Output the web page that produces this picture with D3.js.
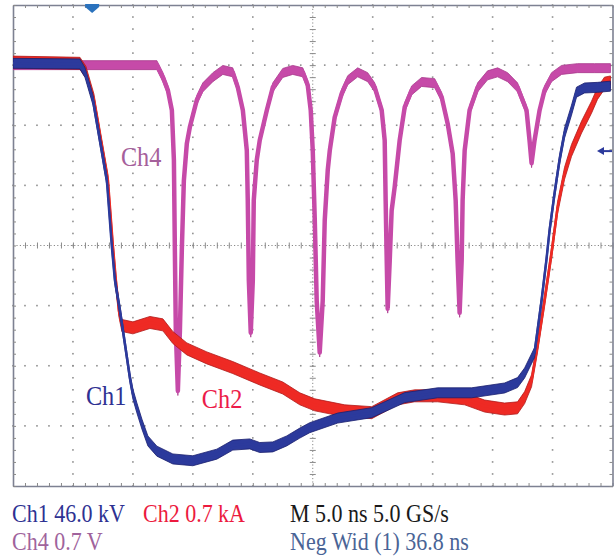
<!DOCTYPE html>
<html>
<head>
<meta charset="utf-8">
<script src="https://cdn.jsdelivr.net/npm/d3@7"></script>
<style>
  body { margin: 0; background: #fff; }
  svg { display: block; }
  text { font-family: "Liberation Serif", "Times New Roman", serif; }
</style>
</head>
<body>
<div id="chart"></div>
<script>
///// DATOS (tiempo en ns, amplitud en divisiones) /////
// Ch1: tension
let ch1 = [
  [0, 3.03], [5.58, 3.02], [6.0, 2.88], [6.67, 2.42], [7.25, 1.75], [7.83, 1.08],
  [8.25, -0.03], [8.5, -0.58], [8.92, -1.08], [9.33, -1.63], [9.75, -2.2], [10.0, -2.47],
  [10.33, -2.7], [10.75, -2.97], [11.25, -3.25], [12.0, -3.42], [13.33, -3.55], [15.0, -3.58],
  [17.0, -3.47], [18.33, -3.32], [19.75, -3.3], [20.58, -3.36], [21.67, -3.35], [22.83, -3.25],
  [23.92, -3.12], [24.75, -3.03], [27.08, -2.87], [29.92, -2.78], [32.67, -2.53], [35.42, -2.45],
  [38.25, -2.45], [41.0, -2.37], [42.08, -2.28], [42.67, -2.12], [43.5, -1.78], [44.08, -0.92],
  [44.5, -0.22], [44.75, 0.25], [45.17, 0.87], [45.58, 1.42], [46.0, 1.87], [46.58, 2.25],
  [47.0, 2.55], [47.67, 2.62], [48.75, 2.63], [49.83, 2.65]
];
// Ch2: corriente
let ch2 = [
  [0, 3.05], [5.58, 3.03], [6.08, 2.88], [6.75, 2.42], [7.33, 1.75], [7.92, 1.08],
  [8.33, 0.0], [8.58, -0.58], [8.83, -1.08], [9.08, -1.33], [10.0, -1.37], [11.42, -1.28],
  [12.5, -1.32], [13.33, -1.53], [14.5, -1.72], [16.17, -1.87], [18.33, -2.03], [20.58, -2.22],
  [22.5, -2.37], [23.92, -2.55], [25.17, -2.65], [27.67, -2.75], [29.92, -2.78], [32.08, -2.55],
  [33.5, -2.5], [35.42, -2.5], [37.67, -2.55], [39.33, -2.67], [41.0, -2.72], [42.08, -2.7],
  [42.67, -2.53], [43.25, -2.25], [43.75, -1.67], [44.33, -0.92], [44.92, -0.12], [45.42, 0.63],
  [46.0, 1.2], [46.58, 1.58], [47.42, 1.97], [48.25, 2.3], [48.75, 2.53], [49.33, 2.7], [49.83, 2.72]
];
// Ch4
let ch4 = [
  [0, 3.0], [12.0, 3.0], [12.5, 2.8], [12.92, 2.58], [13.25, 2.25], [13.42, 1.42], [13.5, -0.08],
  [13.58, -1.42], [13.75, -2.42], [13.92, -1.42], [14.08, -0.08], [14.25, 1.08], [14.5, 1.7],
  [14.75, 1.97], [15.33, 2.42], [15.83, 2.63], [16.67, 2.8], [17.5, 2.92], [18.33, 2.88],
  [18.75, 2.63], [19.17, 2.25], [19.5, 1.58], [19.58, 0.75], [19.67, -0.58], [19.83, -1.45],
  [20.0, -0.58], [20.08, 0.75], [20.33, 1.42], [20.58, 1.75], [21.17, 2.25], [21.67, 2.63],
  [22.5, 2.87], [23.33, 2.92], [24.17, 2.88], [24.58, 2.67], [24.83, 2.25], [25.0, 1.58],
  [25.17, 0.42], [25.33, -0.92], [25.58, -1.78], [25.83, -0.92], [26.0, 0.42], [26.25, 1.25],
  [26.42, 1.58], [26.83, 2.13], [27.42, 2.53], [27.92, 2.75], [28.75, 2.88], [29.58, 2.8],
  [30.17, 2.63], [30.75, 2.25], [31.0, 1.75], [31.08, 0.75], [31.17, -0.25], [31.25, -1.05],
  [31.42, -0.25], [31.58, 0.58], [31.83, 0.97], [32.25, 1.75], [32.67, 2.3], [33.25, 2.58],
  [34.08, 2.72], [35.17, 2.7], [35.75, 2.47], [36.25, 2.03], [36.67, 1.53], [36.92, 0.75],
  [37.08, -0.25], [37.25, -1.12], [37.42, -0.25], [37.5, 0.75], [37.67, 1.58], [38.08, 2.25],
  [38.75, 2.63], [39.58, 2.83], [40.42, 2.88], [41.25, 2.8], [42.08, 2.63], [42.83, 2.25],
  [43.08, 1.75], [43.25, 1.37], [43.5, 1.75], [43.92, 2.25], [44.33, 2.58], [44.92, 2.8],
  [45.75, 2.92], [47.08, 2.95], [48.5, 2.95], [49.83, 2.95]
];

let triggerTime = 6.6;      // marcador de disparo (ns)
let levelMarker = 1.57;     // marcador de nivel (div)

let plotLabels = [
  {text: 'Ch4', t: 9.0, v: 1.33, color: '#a5609b'},
  {text: 'Ch1', t: 6.08, v: -2.65, color: '#2e3192'},
  {text: 'Ch2', t: 15.75, v: -2.7, color: '#ec1c4a'}
];
let infoRow1 = [
  {text: 'Ch1 46.0 kV', x: 12, color: '#2e3192'},
  {text: 'Ch2 0.7 kA', x: 143, color: '#ec1a3e'},
  {text: 'M 5.0 ns 5.0 GS/s', x: 290, color: '#1a1a1a'}
];
let infoRow2 = [
  {text: 'Ch4 0.7 V', x: 12, color: '#a0639c'},
  {text: 'Neg Wid (1) 36.8 ns', x: 290, color: '#4a6496'}
];

///// GRÁFICO /////
let W = 615, H = 557;
let x = d3.scaleLinear().domain([0, 50]).range([13, 612.5]);
let y = d3.scaleLinear().domain([-4, 4]).range([486, 5]);

let svg = d3.select('#chart').append('svg')
  .attr('width', W).attr('height', H);

svg.append('defs').append('clipPath').attr('id', 'clip')
  .append('rect').attr('x', 13).attr('y', 5).attr('width', 599.5).attr('height', 481);

// Retícula punteada
let grid = svg.append('g').attr('fill', '#8f8f8f');
let majorT = d3.range(5, 50, 5).filter(d => d !== 25);
let majorV = d3.range(-3, 4, 1).filter(d => d !== 0);
let minorT = d3.range(0, 50.01, 1);
let minorV = d3.range(-4, 4.01, 0.2);

majorT.forEach(function(t) {
  grid.selectAll(null).data(minorV).enter().append('rect')
    .attr('x', x(t) - 0.8).attr('y', d => y(d) - 0.8)
    .attr('width', 1.6).attr('height', 1.6);
});
majorV.forEach(function(v) {
  grid.selectAll(null).data(minorT).enter().append('rect')
    .attr('x', d => x(d) - 0.8).attr('y', y(v) - 0.8)
    .attr('width', 1.6).attr('height', 1.6);
});

// Ejes centrales
svg.append('line')
  .attr('x1', x(0)).attr('x2', x(50)).attr('y1', y(0)).attr('y2', y(0))
  .attr('stroke', '#8a8a8a').attr('stroke-dasharray', '1.2,2.2');
svg.append('line')
  .attr('x1', x(25)).attr('x2', x(25)).attr('y1', y(-4)).attr('y2', y(4))
  .attr('stroke', '#8a8a8a').attr('stroke-dasharray', '1.2,2.2');

let cx = svg.append('g').attr('transform', 'translate(0,' + (y(0) - 3) + ')')
  .call(d3.axisBottom(x).tickValues(minorT).tickSize(6).tickFormat(''));
let cy = svg.append('g').attr('transform', 'translate(' + (x(25) - 3) + ',0)')
  .call(d3.axisRight(y).tickValues(minorV).tickSize(6).tickFormat(''));
[cx, cy].forEach(function(g) {
  g.select('.domain').remove();
  g.selectAll('line').attr('stroke', '#8a8a8a');
});

// Marco con marcas
let frame = [
  svg.append('g').attr('transform', 'translate(0,' + y(4) + ')')
    .call(d3.axisBottom(x).tickValues(minorT).tickSizeInner(3).tickSizeOuter(0).tickFormat('')),
  svg.append('g').attr('transform', 'translate(0,' + y(-4) + ')')
    .call(d3.axisTop(x).tickValues(minorT).tickSizeInner(3).tickSizeOuter(0).tickFormat('')),
  svg.append('g').attr('transform', 'translate(' + x(0) + ',0)')
    .call(d3.axisRight(y).tickValues(minorV).tickSizeInner(3).tickSizeOuter(0).tickFormat('')),
  svg.append('g').attr('transform', 'translate(' + x(50) + ',0)')
    .call(d3.axisLeft(y).tickValues(minorV).tickSizeInner(3).tickSizeOuter(0).tickFormat(''))
];
frame.forEach(function(g) {
  g.select('.domain').attr('stroke', '#7d8192').attr('stroke-width', 1.6);
  g.selectAll('.tick line').attr('stroke', '#8a8a8a');
});

// Trazas
let traces = svg.append('g').attr('clip-path', 'url(#clip)');

function drawTrace(data, half, fill, edge, lw) {
  let area = d3.area()
    .x(d => x(d[0]))
    .y0(d => y(d[1]) + half)
    .y1(d => y(d[1]) - half);
  let line = d3.line()
    .x(d => x(d[0]))
    .y(d => y(d[1]));
  traces.append('path').datum(data)
    .attr('d', area)
    .attr('fill', fill)
    .attr('stroke', edge)
    .attr('stroke-width', 0.8);
  traces.append('path').datum(data)
    .attr('d', line)
    .attr('fill', 'none')
    .attr('stroke', fill)
    .attr('stroke-width', lw)
    .attr('stroke-linejoin', 'round');
}

drawTrace(ch4, 4.5, '#c64aa8', '#a8388c', 4.5);
drawTrace(ch2, 6, '#ee2a24', '#b01a1a', 2.5);
drawTrace(ch1, 5, '#2c3a9c', '#1b1f6e', 2.5);

// Marcador de disparo
let tx = x(triggerTime);
svg.append('path')
  .attr('d', 'M' + (tx - 7) + ',4 L' + (tx + 7) + ',4 L' + (tx + 7) + ',7 L' + tx + ',13 L' + (tx - 7) + ',7 Z')
  .attr('fill', '#2a72bd');

// Marcador de nivel
let ly = y(levelMarker);
svg.append('line')
  .attr('x1', 602).attr('x2', 612).attr('y1', ly).attr('y2', ly)
  .attr('stroke', '#2c3a9c').attr('stroke-width', 2);
svg.append('path')
  .attr('d', 'M597,' + ly + ' L604,' + (ly - 4) + ' L604,' + (ly + 4) + ' Z')
  .attr('fill', '#2c3a9c');

// Etiquetas
svg.selectAll('.plot-label').data(plotLabels).enter().append('text')
  .attr('class', 'plot-label')
  .attr('transform', d => 'translate(' + x(d.t) + ',' + y(d.v) + ') scale(0.9,1)')
  .attr('fill', d => d.color)
  .attr('font-size', 27)
  .text(d => d.text);

svg.selectAll('.info1').data(infoRow1).enter().append('text')
  .attr('class', 'info1')
  .attr('transform', d => 'translate(' + d.x + ',522) scale(0.88,1)')
  .attr('fill', d => d.color)
  .attr('font-size', 25)
  .text(d => d.text);

svg.selectAll('.info2').data(infoRow2).enter().append('text')
  .attr('class', 'info2')
  .attr('transform', d => 'translate(' + d.x + ',550) scale(0.88,1)')
  .attr('fill', d => d.color)
  .attr('font-size', 25)
  .text(d => d.text);
</script>
</body>
</html>
